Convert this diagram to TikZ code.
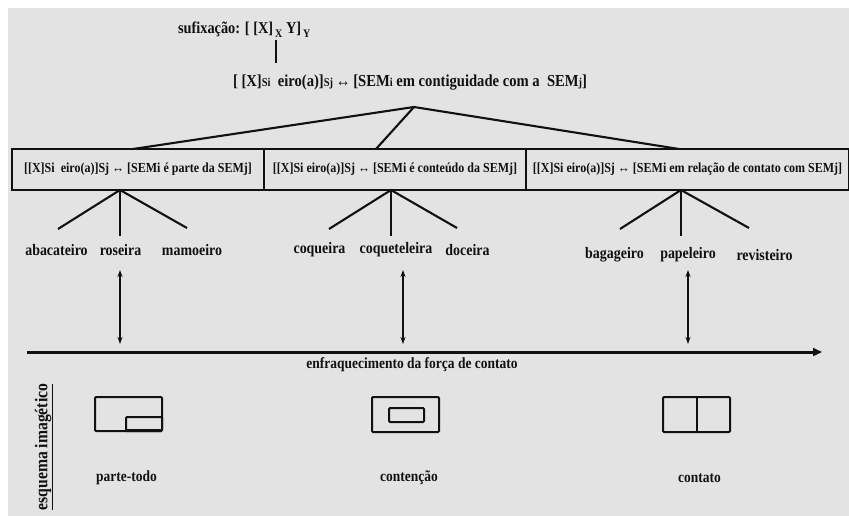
\documentclass[tikz,border=0pt]{standalone}
\usepackage{fontspec}
\setmainfont{Liberation Serif}[FakeStretch=0.87]
\usetikzlibrary{arrows.meta}
\definecolor{panel}{HTML}{E3E3E3}
\definecolor{ink}{HTML}{111111}
\newcommand{\sm}[1]{{\fontsize{12}{12}\selectfont #1}}
\newcommand{\lowsub}[1]{\raisebox{-4pt}{\fontsize{11.5}{11.5}\selectfont #1}}
\begin{document}
\begin{tikzpicture}[x=1pt,y=-1pt,
  every node/.style={inner sep=0pt, outer sep=0pt, text=ink},
  txt/.style={font=\bfseries\fontsize{#1}{#1}\selectfont},
  branch/.style={draw=ink, line width=2.1pt},
  stem/.style={draw=ink, line width=2.2pt},
  boxnode/.style={draw=ink, line width=2.3pt, minimum height=41pt, txt=13.8},
  dbl/.style={draw=ink, line width=1.3pt, {Stealth[length=7pt,width=5pt]}-{Stealth[length=7pt,width=5pt]}},
  axis/.style={draw=ink, line width=3pt, -{Triangle[length=9pt,width=8pt]}},
  schema/.style={draw=ink, line width=2pt, rounded corners=1pt}
]
% canvas
\fill[white] (0,0) rectangle (849,516);
\fill[panel] (8,8) rectangle (849,516);
\useasboundingbox (0,0) rectangle (849,516);

% top: general schema
\node[txt=16.5, anchor=base west] (suf) at (178,34)
  {sufixação: [ [X]\lowsub{\,X} Y]\lowsub{\,Y}};
\node[txt=16.8, anchor=base west] (main) at (233,87)
  {[ [X]\sm{Si}\ \ eiro(a)]\sm{Sj}\,↔\,[SEM\sm{i} em contiguidade com a \ SEM\sm{j}]};
\coordinate (stemtop) at (276,40);
\coordinate (stembot) at (276,63);
\draw[stem] (stemtop) -- (stembot);

% three sub-schemas
\node[boxnode, minimum width=252pt] (b1) at (138,169.5)
  {[[X]Si\ \ eiro(a)]Sj ↔ [SEMi é parte da SEMj]};
\node[boxnode, minimum width=262pt] (b2) at (395,169.5)
  {[[X]Si eiro(a)]Sj ↔ [SEMi é conteúdo da SEMj]};
\node[boxnode, minimum width=323pt] (b3) at (687.5,169.5)
  {[[X]Si eiro(a)]Sj ↔ [SEMi em relação de contato com SEMj]};

\coordinate (apex) at (414,107);
\draw[branch] (apex) -- (b1.north -| 133,0);
\draw[branch] (apex) -- (b2.north -| 376,0);
\draw[branch] (apex) -- (b3.north -| 679,0);

% examples under each sub-schema
\node[txt=16] (w11) at (56.5,250) {abacateiro};
\node[txt=16] (w12) at (120.5,250) {roseira};
\node[txt=16] (w13) at (192,250) {mamoeiro};
\node[txt=16] (w21) at (319.5,250) {coqueira};
\node[txt=16] (w22) at (396,250) {coqueteleira};
\node[txt=16] (w23) at (467.5,250) {doceira};
\node[txt=16] (w31) at (614.5,255) {bagageiro};
\node[txt=16] (w32) at (688,255) {papeleiro};
\node[txt=16] (w33) at (764.5,255) {revisteiro};

\coordinate (t1) at (120,190);
\coordinate (t1a) at (58,229);  \coordinate (t1b) at (120,236); \coordinate (t1c) at (187,228);
\coordinate (t2) at (391,190);
\coordinate (t2a) at (329,229); \coordinate (t2b) at (391,236); \coordinate (t2c) at (457,228);
\coordinate (t3) at (681,190);
\coordinate (t3a) at (620,229); \coordinate (t3b) at (681,236); \coordinate (t3c) at (749,228);
\foreach \t in {1,2,3}{
  \draw[branch] (t\t a) -- (t\t) -- (t\t c);
  \draw[branch] (t\t) -- (t\t b);
}

% contact-strength axis
\coordinate (axstart) at (27,352);
\coordinate (axend) at (822,352);
\draw[axis] (axstart) -- (axend);
\node[txt=15.5] (axlabel) at (412,365) {enfraquecimento da força de contato};

\coordinate (d1a) at (120,270); \coordinate (d1b) at (120,344);
\coordinate (d2a) at (403,270); \coordinate (d2b) at (403,344);
\coordinate (d3a) at (688,270); \coordinate (d3b) at (688,344);
\foreach \t in {1,2,3}{ \draw[dbl] (d\t a) -- (d\t b); }

% image schemas
\node[txt=18, rotate=90] (esq) at (44,447) {\underline{esquema imagético}};

\draw[schema] (95,397) rectangle (162,431);
\draw[schema] (126,417) rectangle (162,431);
\draw[ink, line width=2.8pt] (126,430.5) -- (162,430.5);
\node[txt=15.5] (l1) at (126.5,478) {parte-todo};

\draw[schema] (372,397) rectangle (439,432);
\draw[schema] (389,408) rectangle (424,422);
\node[txt=15.5] (l2) at (409,478) {contenção};

\draw[schema] (663,397) rectangle (730,432);
\draw[ink, line width=2pt] (696.5,397) -- (696.5,432);
\node[txt=15.5] (l3) at (699.5,478) {contato};
\end{tikzpicture}
\end{document}
